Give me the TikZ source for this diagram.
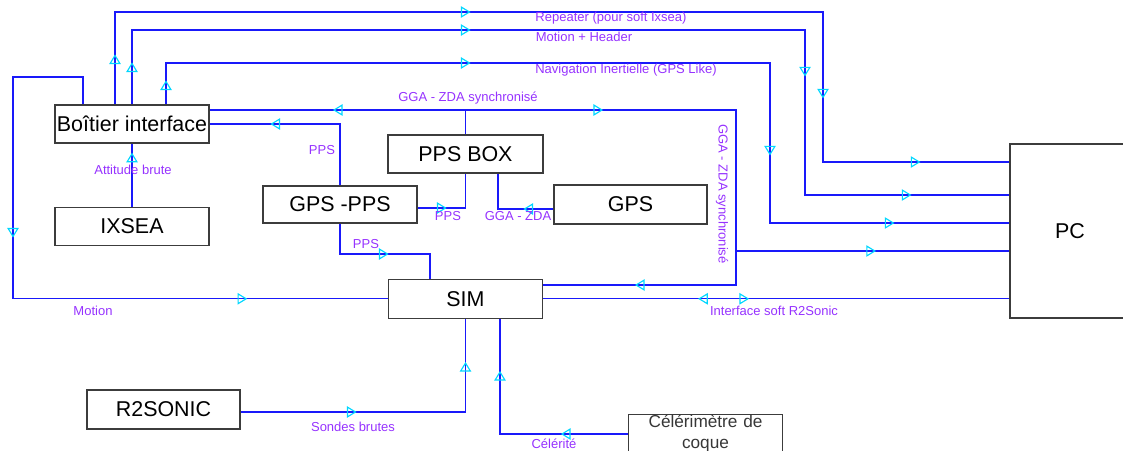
\documentclass[tikz,border=0pt]{standalone}
\usepackage{fontspec}
\setmainfont{Liberation Sans}
\usepackage{tikz}
\usetikzlibrary{arrows.meta,positioning,decorations.markings}
\definecolor{linkblue}{RGB}{25,25,250}
\definecolor{lblpurple}{RGB}{150,50,255}
\definecolor{tipcyan}{RGB}{0,215,255}
\definecolor{boxgray}{RGB}{60,60,60}
\definecolor{celergray}{RGB}{55,55,55}
\tikzset{
  basebox/.style={rectangle,draw=boxgray,line width=0.75pt,fill=white,align=center,inner sep=0pt,
    minimum width=3.08cm,minimum height=0.76cm,font=\fontsize{12.2}{14}\selectfont},
  lbl/.style={inner sep=0pt,text=lblpurple,font=\fontsize{7.4}{9}\selectfont},
  link/.style={draw=linkblue,line width=0.6pt},
  tipat/.style={postaction={decorate,decoration={markings,
    mark=at position #1 with {\arrow{Triangle[open,length=5.5pt,width=6.5pt,color=tipcyan,line width=0.65pt]}}}}},
  tipback/.style={postaction={decorate,decoration={markings,
    mark=at position #1 with {\arrowreversed{Triangle[open,length=5.5pt,width=6.5pt,color=tipcyan,line width=0.65pt]}}}}}
}
\begin{document}
\begin{tikzpicture}[x=0.02cm,y=-0.02cm]
  \useasboundingbox (0,0) rectangle (1123,450);
  \clip (0,0) rectangle (1123,450);

  %% BOXES
  \node[basebox] (boitier) at (132,124) {Boîtier interface};
  \node[basebox,below=1.26cm of boitier] (ixsea) {IXSEA};
  \node[basebox,minimum width=3.1cm] (ppsbox) at (465.5,154) {PPS BOX};
  \node[basebox,minimum height=0.74cm] (gpspps) at (340,204.5) {GPS -PPS};
  \node[basebox,minimum width=3.06cm,minimum height=0.78cm] (gps) at (630.5,204.5) {GPS};
  \node[basebox,below=2.1cm of ppsbox,minimum height=0.78cm] (sim) {SIM};
  \node[basebox,minimum width=2.4cm,minimum height=3.48cm] (pc) at (1070,231) {PC};
  \node[basebox,minimum width=3.06cm,minimum height=0.78cm] (r2sonic) at (163.5,409.5) {R2SONIC};
  \node[basebox,anchor=north,text width=3.06cm,text=celergray,
        font=\fontsize{9.8}{11.95}\selectfont] (celer) at (705.5,414) {Célérimètre de\\coque};

  \coordinate (ggajct) at (736,251);

  %% CONNECTIONS
  \draw[link,tipat=1.0cm,tipat=8.96cm,tipat=17.74cm,tipat=20.96cm]
    (115,0 |- boitier.north) |- (823,12) |- (pc.west |- 0,162);
  \draw[link,tipat=0.84cm,tipat=8.26cm,tipat=15.88cm,tipat=20.38cm]
    (132,0 |- boitier.north) |- (805,30) |- (pc.west |- 0,195);
  \draw[link,tipat=0.48cm,tipat=6.92cm,tipat=14.76cm,tipat=18.6cm]
    (166,0 |- boitier.north) |- (770,63) |- (pc.west |- 0,223);
  \draw[link,tipat=3.14cm](ppsbox.north) |- (boitier.east |- 0,110);
  \draw[link,tipat=3.24cm,tipat=11.42cm](ppsbox.north) |- (736,110) |- (sim.east |- 0,285);
  \draw[link,tipat=2.8cm](ggajct) -- (pc.west |- ggajct);
  \draw[link,tipat=2.62cm](gpspps.north) |- (boitier.east);
  \draw[link,tipat=0.58cm](gpspps.east |- 0,208) -| (ppsbox.south);
  \draw[link,tipat=0.6cm](gps.west |- 0,209) -| (498,0 |- ppsbox.south);
  \draw[link,tipat=1.58cm](gpspps.south) |- (430,254) -- (430,0 |- sim.north);
  \draw[link,tipat=1.08cm](ixsea.north) -- (boitier.south);
  \draw[link,tipat=5.16cm,tipat=11.07cm](83,0 |- boitier.north) |- (13,77) |- (sim.west);
  \draw[link,tipback=3.1cm,tipat=4.12cm](sim.east) -- (pc.west |- sim.east);
  \draw[link,tipat=2.32cm,tipat=5.5cm](r2sonic.east |- 0,412) -| (sim.south);
  \draw[link,tipat=1.34cm,tipat=3.82cm](celer.west |- 0,434) -| (500,0 |- sim.south);

  %% LABELS
  \node[lbl] (lrep) at (611,18.5) {Repeater (pour soft Ixsea)};
  \node[lbl] (lmoth) at (584,36.5) {Motion + Header};
  \node[lbl] (lnav) at (626,70) {Navigation Inertielle (GPS Like)};
  \node[lbl] (lgga) at (468,98) {GGA - ZDA synchronisé};
  \node[lbl,rotate=-90] (lggav) at (722,194) {GGA - ZDA synchronisé};
  \node[lbl] (lppsa) at (322,150) {PPS};
  \node[lbl] (lppsb) at (448,216) {PPS};
  \node[lbl] (lggb) at (518,216) {GGA - ZDA};
  \node[lbl] (lppsc) at (366,244) {PPS};
  \node[lbl] (latt) at (133,170) {Attitude brute};
  \node[lbl] (lmot) at (93,311) {Motion};
  \node[lbl] (lr2s) at (774,311) {Interface soft R2Sonic};
  \node[lbl] (lsond) at (353,427) {Sondes brutes};
  \node[lbl] (lcel) at (554,444) {Célérité};
\end{tikzpicture}
\end{document}
